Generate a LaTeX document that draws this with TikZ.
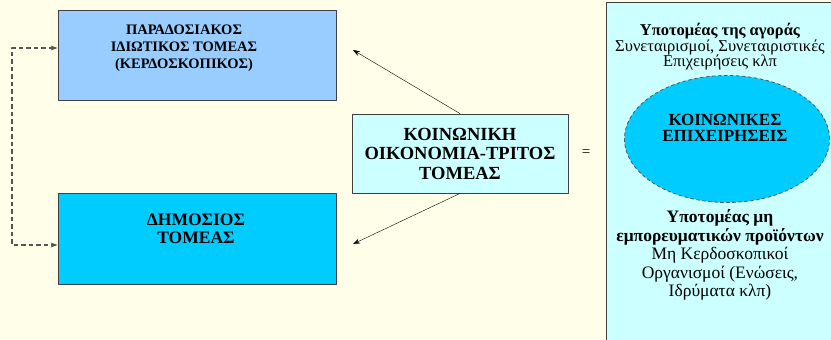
\documentclass[tikz,border=0pt]{standalone}
\usepackage{fontspec}
\setmainfont{Liberation Serif}
\usepackage{tikz}
\usetikzlibrary{positioning}
\usepackage{xcolor}
\usetikzlibrary{arrows.meta, shapes.geometric}

\definecolor{bgcream}{HTML}{FFFFE9}
\definecolor{privblue}{HTML}{99CCFF}
\definecolor{pubcyan}{HTML}{00CCFF}
\definecolor{paleaqua}{HTML}{CCFFFF}
\definecolor{dashgray}{HTML}{555555}

\begin{document}
\begin{tikzpicture}[x=1pt, y=-1pt, line cap=round, line join=round,
    sectorbox/.style={draw=black!75, line width=0.8pt, inner sep=0pt},
    boxtext/.style={font=\bfseries\fontsize{14.5}{17}\selectfont, align=center, inner sep=0pt},
    paneltext/.style={font=\fontsize{16.5}{15.5}\selectfont, align=center, inner sep=0pt}]
            % page and background
            \fill[bgcream] (0,0) rectangle (831,340);
            \clip (0,0) rectangle (831,340);

            % private and public sector boxes
            \node[sectorbox, fill=privblue, minimum width=278pt, minimum height=90pt] (privsec) at (197,55) {};
            \node[boxtext] (privtext) at (184,48) {ΠΑΡΑΔΟΣΙΑΚΟΣ\\ΙΔΙΩΤΙΚΟΣ ΤΟΜΕΑΣ\\(ΚΕΡΔΟΣΚΟΠΙΚΟΣ)};
            \node[sectorbox, fill=pubcyan, minimum width=278pt, minimum height=91pt] (pubsec) at (197,238.5) {};
            \node[boxtext, font=\bfseries\fontsize{17.5}{17.5}\selectfont] (pubtext) at (196,229) {ΔΗΜΟΣΙΟΣ\\ΤΟΜΕΑΣ};

            % third sector box
            \node[sectorbox, fill=paleaqua, minimum width=216pt, minimum height=79pt,
                  font=\bfseries\fontsize{18.5}{19.5}\selectfont, align=center] (thirdsec) at (460,153.5)
                  {ΚΟΙΝΩΝΙΚΗ\\ΟΙΚΟΝΟΜΙΑ-ΤΡΙΤΟΣ\\ΤΟΜΕΑΣ};
            \node[font=\fontsize{15}{15}\selectfont] (eqsign) at (586,153) {=};

            % arrows to the two sectors
            \coordinate (privtip) at (353,50);
            \coordinate (pubtip) at (353,244);
            \draw[-{Stealth[length=7pt, width=5pt]}, thin] (thirdsec.north) -- (privtip);
            \draw[-{Stealth[length=7pt, width=5pt]}, thin] (thirdsec.south) -- (pubtip);

            % dashed link on the left
            \coordinate (linktop) at (12,48);
            \coordinate (linkbot) at (12,245);
            \draw[dashgray, line width=1.1pt, dash pattern=on 4.5pt off 3pt, line cap=butt,
                  {Stealth[length=7pt, width=5pt]}-{Stealth[length=7pt, width=5pt]}]
                  (privsec.west |- linktop) -- (linktop) -- (linkbot) -- (pubsec.west |- linkbot);

            % right panel
            \node[sectorbox, fill=paleaqua, minimum width=244pt, minimum height=360pt] (panel) at (728,182) {};
            \node[paneltext] (marketsub) at (720,47)
                  {\textbf{Υποτομέας της αγοράς}\\Συνεταιρισμοί, Συνεταιριστικές\\Επιχειρήσεις κλπ};
            \node[ellipse, draw=dashgray, dashed, fill=pubcyan, line width=0.8pt,
                  minimum width=205pt, minimum height=127pt, inner sep=0pt] (socent) at (727,139) {};
            \node[boxtext, font=\bfseries\fontsize{17}{15.5}\selectfont] (socenttext) at (725,128)
                  {ΚΟΙΝΩΝΙΚΕΣ\\ΕΠΙΧΕΙΡΗΣΕΙΣ};
            \node[paneltext, font=\fontsize{17.5}{18.5}\selectfont] (nonmarketsub) at (720,255)
                  {\textbf{Υποτομέας μη}\\\textbf{εμπορευματικών προϊόντων}\\Μη Κερδοσκοπικοί\\Οργανισμοί (Ενώσεις,\\Ιδρύματα κλπ)};
        \end{tikzpicture}
\end{document}
